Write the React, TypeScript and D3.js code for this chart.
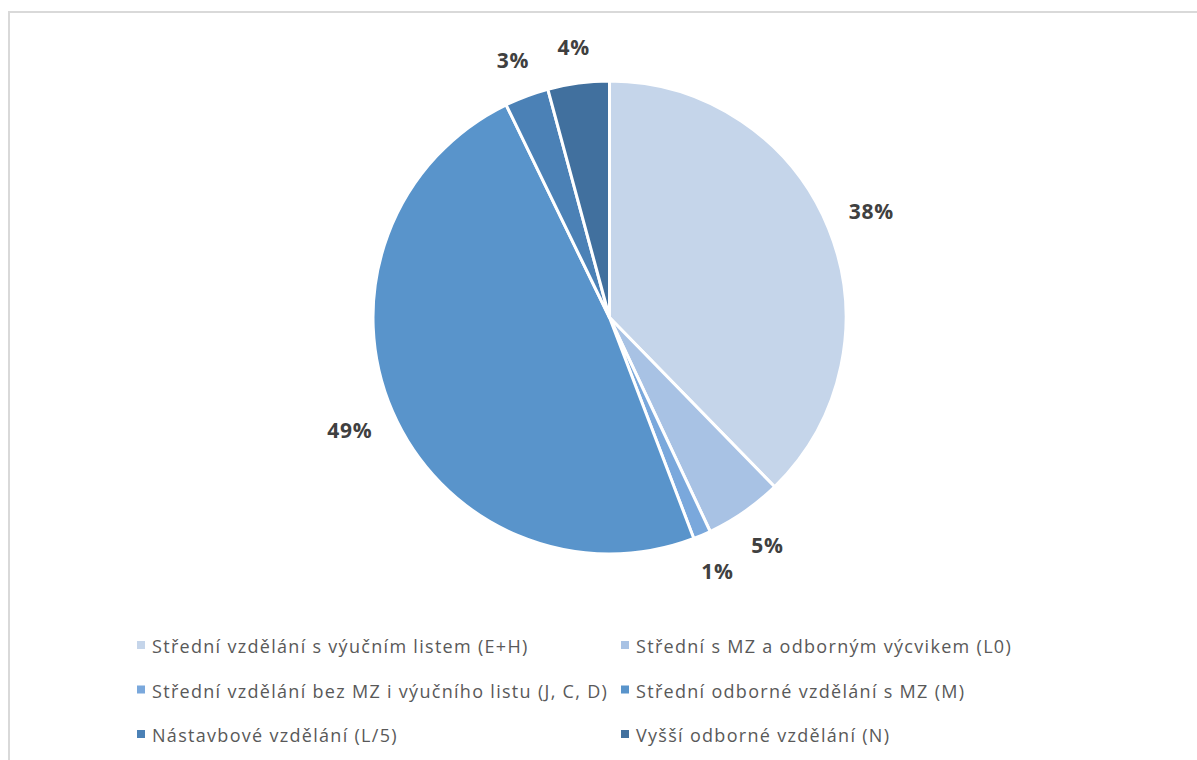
import * as d3 from 'd3';
import { useEffect, useRef } from 'react';

const categories = [
    'Střední vzdělání s výučním listem (E+H)',
    'Střední s MZ a odborným výcvikem (L0)',
    'Střední vzdělání bez MZ i výučního listu (J, C, D)',
    'Střední odborné vzdělání s MZ (M)',
    'Nástavbové vzdělání (L/5)',
    'Vyšší odborné vzdělání (N)',
];
const shares = [37.7, 5.3, 1.2, 48.6, 3.0, 4.2];
const colors = ['#c5d5ea', '#a8c2e4', '#7aa8dc', '#5994cb', '#4b81b6', '#41709e'];

function App() {
    const svgRef = useRef<SVGSVGElement | null>(null);

    useEffect(() => {
        if (!svgRef.current) return;
        const svg = d3.select(svgRef.current);
        svg.selectAll('*').remove();

        const width = 1197;
        const height = 760;
        const cx = 609.5;
        const cy = 317.5;
        const radius = 236.5;

        svg.append('rect')
            .attr('width', width)
            .attr('height', height)
            .attr('fill', 'white');

        // chart area frame (right and bottom edges fall outside the crop)
        svg.append('rect')
            .attr('x', 9)
            .attr('y', 12)
            .attr('width', width + 20)
            .attr('height', height + 20)
            .attr('fill', 'none')
            .attr('stroke', '#d9d9d9')
            .attr('stroke-width', 2);

        const data = categories.map((c, i) => ({ name: c, value: shares[i], color: colors[i] }));
        const pie = d3.pie<any>().value(d => d.value).sort(null);
        const arcs = pie(data);
        const arc = d3.arc<any>().innerRadius(0).outerRadius(radius);

        const g = svg.append('g').attr('transform', `translate(${cx}, ${cy})`);

        g.selectAll('.slice')
            .data(arcs)
            .enter().append('path')
            .attr('class', 'slice')
            .attr('d', arc)
            .attr('fill', d => d.data.color)
            .attr('stroke', 'white')
            .attr('stroke-width', 3)
            .attr('stroke-linejoin', 'round');

        const fmt = (v: number) => Math.round(v) + '%';
        const labels = g.selectAll('.lbl')
            .data(arcs)
            .enter().append('text')
            .attr('class', 'lbl')
            .attr('text-anchor', 'middle')
            .attr('dominant-baseline', 'central')
            .attr('font-family', '"Open Sans", sans-serif')
            .attr('font-weight', 'bold')
            .attr('font-size', '21px')
            .attr('letter-spacing', '0.8px')
            .attr('fill', '#404040')
            .text(d => fmt(d.data.value));

        labels.each(function (d) {
            const node = this as SVGTextElement;
            const box = node.getBBox();
            const mid = (d.startAngle + d.endAngle) / 2;
            const s = Math.sin(mid);
            const c = Math.cos(mid);
            const r = radius + 20 + (box.width / 2) * Math.abs(s) + (box.height / 2) * Math.abs(c);
            d3.select(node)
                .attr('x', r * s)
                .attr('y', -r * c);
        });

        // legend, two columns
        const legendX = d3.scaleOrdinal<number, number>().domain([0, 1]).range([137, 621]);
        const legendY = d3.scalePoint<number>().domain([0, 1, 2]).range([646, 735]);

        const items = svg.selectAll('.legend')
            .data(data)
            .enter().append('g')
            .attr('class', 'legend')
            .attr('transform', (d, i) => `translate(${legendX(i % 2)}, ${legendY(Math.floor(i / 2))})`);

        items.append('rect')
            .attr('x', 0)
            .attr('y', -5)
            .attr('width', 8)
            .attr('height', 8)
            .attr('fill', d => d.color);

        items.append('text')
            .attr('x', 15)
            .attr('y', 0)
            .attr('dominant-baseline', 'central')
            .attr('font-family', '"Open Sans", sans-serif')
            .attr('font-size', '18px')
            .attr('letter-spacing', '1.3px')
            .attr('fill', '#595959')
            .text(d => d.name);
    }, []);

    return (
        <div style={{ position: 'fixed', left: 0, top: 0, width: 1197, height: 760 }}>
            <svg ref={svgRef} width={1197} height={760} style={{ display: 'block' }}></svg>
        </div>
    );
}

export default App;
